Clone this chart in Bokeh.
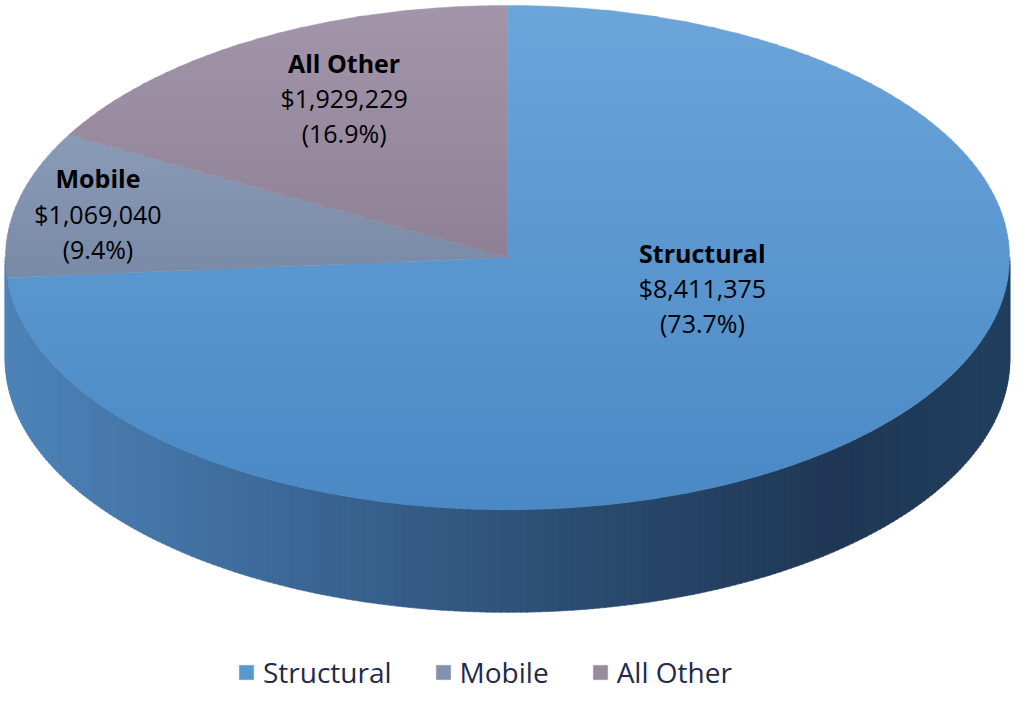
import numpy as np
from bokeh.plotting import figure
from bokeh.models import Range1d, ColumnDataSource, Legend, LegendItem
from bokeh.core.properties import value
from bokeh.embed import file_html
from bokeh.resources import INLINE

# ---- data ----
categories = ["Structural", "Mobile", "All Other"]
values = [8411375, 1069040, 1929229]

# ---- layout / style (not data) ----
W, H = 1012, 691
REF_W, REF_H = 1028, 707
CX, CY, RX, RY, DEPTH = 515.0, 263.0, 510.0, 258.0, 105.0
label_pos = {"Structural": (713, 294), "Mobile": (99, 218), "All Other": (349, 100)}
LINE = 36
top_grad = {"Structural": ("#6ca5da", "#4a89c5"),
            "Mobile": ("#9aaac6", "#5d6f8c"),
            "All Other": ("#a396aa", "#7a6b80")}
side_stops = [(0.0, "#4e84b8"), (0.29, "#3b6796"), (0.58, "#2b4b70"),
              (0.83, "#1f3754"), (1.0, "#22405f")]
FONT = "Open Sans"


def h2rgb(h):
    h = h.lstrip("#")
    return np.array([int(h[i:i + 2], 16) for i in (0, 2, 4)], dtype=float)


def rgb2h(c):
    c = np.clip(np.round(c), 0, 255).astype(int)
    return "#%02x%02x%02x" % tuple(c)


def lerp2(c0, c1, t):
    return rgb2h(h2rgb(c0) * (1 - t) + h2rgb(c1) * t)


def lerp_stops(stops, t):
    for (t0, c0), (t1, c1) in zip(stops[:-1], stops[1:]):
        if t <= t1:
            return lerp2(c0, c1, (t - t0) / (t1 - t0) if t1 > t0 else 0)
    return stops[-1][1]


def clip_half(poly, y, keep_ge):
    out = []
    n = len(poly)
    for i in range(n):
        a = poly[i]
        b = poly[(i + 1) % n]
        ina = a[1] >= y if keep_ge else a[1] <= y
        inb = b[1] >= y if keep_ge else b[1] <= y
        if ina:
            out.append(a)
        if ina != inb:
            t = (y - a[1]) / (b[1] - a[1])
            out.append((a[0] + t * (b[0] - a[0]), y))
    return out


def clip_band(poly, y0, y1):
    p = clip_half(poly, y0, True)
    if not p:
        return p
    return clip_half(p, y1, False)


p = figure(width=W, height=H, output_backend="svg", toolbar_location=None,
           x_range=Range1d(0, REF_W), y_range=Range1d(REF_H, 0),
           min_border=0, outline_line_color=None)
p.axis.visible = False
p.grid.visible = False
p.background_fill_color = "white"
p.border_fill_color = "white"

# ---- side (front rim), all Structural ----
phis = np.linspace(0, np.pi, 241)
sx, sy, sc = [], [], []
for a0, a1 in zip(phis[:-1], phis[1:]):
    x0, x1 = CX - RX * np.cos(a0), CX - RX * np.cos(a1)
    y0, y1 = CY + RY * np.sin(a0), CY + RY * np.sin(a1)
    sx.append([x0 - 0.4, x1 + 0.4, x1 + 0.4, x0 - 0.4])
    sy.append([y0, y1, y1 + DEPTH, y0 + DEPTH])
    sc.append(lerp_stops(side_stops, ((x0 + x1) / 2 - (CX - RX)) / (2 * RX)))
p.patches(xs=sx, ys=sy, fill_color=sc, line_color=sc, line_width=0.6)

# ---- top surface ----
total = float(sum(values))
fracs = [v / total for v in values]
start = 0.0
top_y, bot_y = CY - RY, CY + RY
edges = np.linspace(top_y, bot_y, 91)
renderers = []
for cat, f in zip(categories, fracs):
    end = start + f * 2 * np.pi
    th = np.linspace(start, end, max(int(f * 400), 12))
    poly = [(CX, CY)] + [(CX + RX * np.sin(t), CY - RY * np.cos(t)) for t in th]
    bx, by, bc = [], [], []
    for e0, e1 in zip(edges[:-1], edges[1:]):
        q = clip_band(poly, e0 - 0.5, e1 + 0.5)
        if len(q) < 3:
            continue
        bx.append([pt[0] for pt in q])
        by.append([pt[1] for pt in q])
        bc.append(lerp2(top_grad[cat][0], top_grad[cat][1], ((e0 + e1) / 2 - top_y) / (2 * RY)))
    src = ColumnDataSource(dict(xs=bx, ys=by, c=bc))
    r = p.patches(xs="xs", ys="ys", fill_color="c", line_color="c", line_width=0.4, source=src)
    renderers.append((cat, r, len(bx) // 2))
    start = end

# ---- labels ----
for cat, v, f in zip(categories, values, fracs):
    lx, ly = label_pos[cat]
    p.text(x=[lx], y=[ly - LINE], text=[cat], text_align="center", text_baseline="middle",
           text_font=value(FONT), text_font_size="25px", text_font_style="bold", text_color="black")
    p.text(x=[lx, lx], y=[ly, ly + LINE], text=["${:,}".format(v), "({:.1f}%)".format(f * 100)],
           text_align="center", text_baseline="middle",
           text_font=value(FONT), text_font_size="25px", text_color="black")

legend = Legend(items=[LegendItem(label=c, renderers=[r], index=k) for c, r, k in renderers],
                orientation="horizontal", location=(237, 0),
                border_line_alpha=0, background_fill_alpha=0,
                glyph_width=18, glyph_height=18, label_standoff=8, spacing=42,
                padding=0, margin=0,
                label_text_font=FONT, label_text_font_size="28px", label_text_color="#1f2a4d")
p.add_layout(legend)

open("out.html", "w").write(file_html(p, INLINE))
